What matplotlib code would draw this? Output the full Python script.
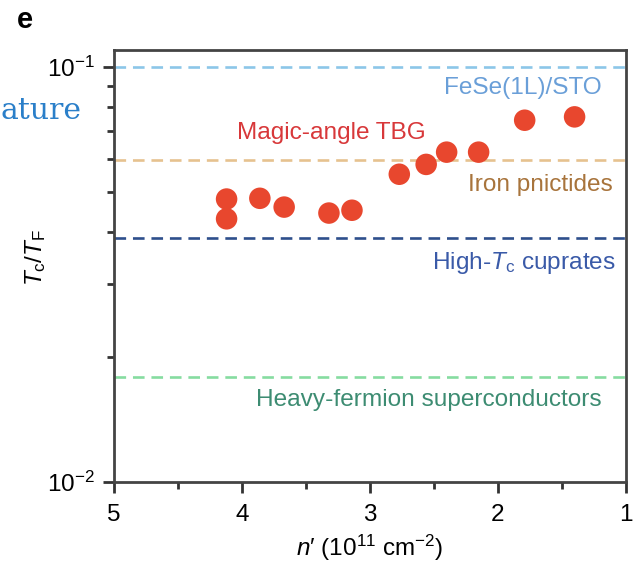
import matplotlib
matplotlib.use("Agg")
import matplotlib.pyplot as plt
from matplotlib.ticker import LogLocator, NullFormatter, MultipleLocator

plt.rcParams['font.family'] = ['Liberation Sans', 'DejaVu Sans']
plt.rcParams['mathtext.fontset'] = 'custom'
plt.rcParams['mathtext.rm'] = 'Liberation Sans'
plt.rcParams['mathtext.it'] = 'Liberation Sans:italic'
plt.rcParams['mathtext.bf'] = 'Liberation Sans:bold'

# magic-angle TBG points: carrier density n' (1e11 cm^-2) vs Tc/TF
n_prime = [4.12, 4.12, 3.86, 3.67, 3.32, 3.14, 2.77, 2.56, 2.40, 2.15, 1.79, 1.40]
tc_tf = [0.0481, 0.0431, 0.0483, 0.0460, 0.0445, 0.0452, 0.0552, 0.0583,
         0.0624, 0.0624, 0.0745, 0.0759]

# reference levels for other superconductor families
families = ["FeSe(1L)/STO", "Iron pnictides", "High-$T_\\mathregular{c}$ cuprates",
            "Heavy-fermion superconductors"]
family_levels = [0.1, 0.0597, 0.0387, 0.0179]
line_colors = ["#8cc6e8", "#e6c28f", "#2e4f8c", "#86dca0"]
text_colors = ["#6a9fd8", "#a8743c", "#3a5aa8", "#3d8c72"]
label_x = [1.19, 1.10, 1.08, 1.19]
label_y = [0.0889, 0.0520, 0.0337, 0.0158]

fig = plt.figure(figsize=(6.34, 5.62), dpi=100)
ax = fig.add_axes([0.1798, 0.1423, 0.8072, 0.7687])

for lvl, lc in zip(family_levels, line_colors):
    ax.axhline(lvl, color=lc, lw=1.9, dashes=(4.4, 2.6), zorder=1)

ax.scatter(n_prime, tc_tf, s=240, color="#e8472e", edgecolors="none", zorder=3)

for name, lx, ly, tc in zip(families, label_x, label_y, text_colors):
    ax.text(lx, ly, name, color=tc, fontsize=17.6, ha="right", va="center", zorder=4)
ax.text(3.30, 0.0693, "Magic-angle TBG", color="#d8383a", fontsize=17.6,
        ha="center", va="center", zorder=4)

ax.set_yscale("log")
ax.set_ylim(0.01, 0.11)
ax.set_xlim(5, 1)
ax.set_yticks([0.01, 0.1])
ax.set_yticklabels(["10$^{-2}$", "10$^{-1}$"])
ax.yaxis.set_minor_locator(LogLocator(base=10, subs=range(2, 10)))
ax.yaxis.set_minor_formatter(NullFormatter())
ax.xaxis.set_major_locator(MultipleLocator(1))
ax.xaxis.set_minor_locator(MultipleLocator(0.5))

ax.tick_params(which="major", direction="out", length=8, width=2,
               color="#333333", labelsize=17.5, pad=6)
ax.tick_params(axis="x", which="major", pad=8)
ax.tick_params(which="minor", direction="out", length=5, width=2, color="#333333")
for sp in ax.spines.values():
    sp.set_linewidth(2)
    sp.set_color("#444444")

ax.set_xlabel("$n$\u2032 (10$^{11}$ cm$^{-2}$)", fontsize=17.5)
ax.xaxis.set_label_coords(0.5, -0.118, transform=ax.transAxes)
ax.xaxis.label.set_va("top")
ax.set_ylabel("$T_\\mathregular{c}/T_\\mathregular{F}$", fontsize=17.5)
ax.yaxis.set_label_coords(-0.129, 0.52)

fig.text(0.027, 0.99, "e", fontsize=21, fontweight="bold", va="top", ha="left")
fig.text(0.0, 0.802, "ature", family="DejaVu Serif", fontsize=21.5,
         color="#2a7fc9", ha="left", va="center")

fig.savefig("out.png", dpi=100)
